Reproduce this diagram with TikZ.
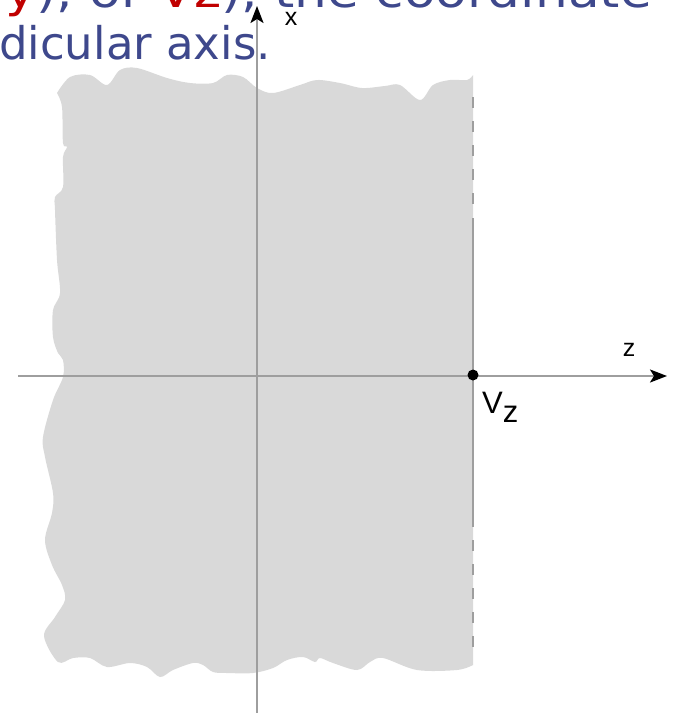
\documentclass[tikz,border=0pt]{standalone}
\usepackage{fontspec}
\setmainfont{Liberation Sans}
\newfontfamily\slidefont{DejaVu Sans}
\usetikzlibrary{arrows.meta}
\definecolor{regionfill}{HTML}{D9D9D9}
\definecolor{axisgray}{HTML}{9E9E9E}
\definecolor{slideblue}{HTML}{3E488C}
\definecolor{slidered}{HTML}{C00000}
\tikzset{
  axisline/.style={draw=axisgray, line width=2.4pt, -{Stealth[length=17pt,width=13pt,inset=4pt,color=black]}},
  edgeline/.style={draw=axisgray, line width=2.4pt},
  edgedashed/.style={draw=axisgray, line width=2.4pt, dash pattern=on 10.5pt off 13.5pt},
  axislabel/.style={inner sep=0pt, font=\fontsize{25pt}{25pt}\selectfont},
  slidetext/.style={inner sep=0pt, font=\slidefont\fontsize{45pt}{45pt}\selectfont, text=slideblue},
}
\begin{document}
\begin{tikzpicture}[x=1pt,y=-1pt]
\useasboundingbox (0,0) rectangle (675,713);
\clip (0,0) rectangle (675,713);
% shaded half-plane with torn edges
\fill[regionfill]
  plot[smooth, tension=0.55] coordinates {(57,93) (70,77) (90,75) (107,85) (120,70) (137,68) (167,78) (190,83) (213,83) (227,75) (243,77) (257,88) (273,93) (300,85) (317,80) (340,83) (362,88) (385,86) (400,85) (420,100) (433,85) (450,80) (467,80) (473,75)}
  -- (473,665)
  -- plot[smooth, tension=0.55] coordinates {(473,665) (457,670) (417,670) (383,658) (370,662) (357,670) (333,663) (320,658) (315,662) (303,657) (287,660) (273,668) (253,673) (227,673) (213,672) (203,665) (193,663) (173,670) (160,677) (147,667) (130,663) (107,667) (90,658) (73,658) (58,662) (44,636) (55,617) (65,600) (62,585) (52,565) (45,540) (52,513) (53,493) (45,457) (43,437) (53,400) (63,377) (63,360) (58,353) (53,337) (53,310) (60,293) (57,260) (55,210) (55,197) (63,187) (63,157) (67,147) (63,143) (62,107) (57,93)}
  -- cycle;
% boundary line x = Vz
\coordinate (etop) at (473,97);
\coordinate (etopend) at (473,205);
\coordinate (emidtop) at (473,218);
\coordinate (emidbot) at (473,527);
\coordinate (ebotstart) at (473,540);
\coordinate (ebot) at (473,652);
\draw[edgedashed] (etop) -- (etopend);
\draw[edgeline] (emidtop) -- (emidbot);
\draw[edgedashed] (ebotstart) -- (ebot);
% axes
\coordinate (zstart) at (18,376);
\coordinate (zend) at (667,376);
\coordinate (xstart) at (257,713);
\coordinate (xend) at (257,6);
\draw[axisline] (zstart) -- (zend);
\draw[axisline] (xstart) -- (xend);
% point Vz
\node[circle, fill=black, inner sep=0pt, minimum size=11pt] (vzpt) at (473,375) {};
% labels
\node[axislabel] (xlab) at (291,19) {x};
\node[axislabel] (zlab) at (629,350) {z};
\node[inner sep=0pt, anchor=base west, font=\fontsize{31pt}{31pt}\selectfont] (vzlab) at (482,413) {V\raisebox{-9pt}{z}};
% slide text (cut off)
\node[slidetext, anchor=base east] (line1) at (652,7) {\scalebox{1.15}[1]{\textcolor{slidered}{Vy}), or \textcolor{slidered}{Vz}), the coordinate}};
\node[slidetext, anchor=base east] (line2) at (271,59) {perpendicular axis.};
\end{tikzpicture}
\end{document}
